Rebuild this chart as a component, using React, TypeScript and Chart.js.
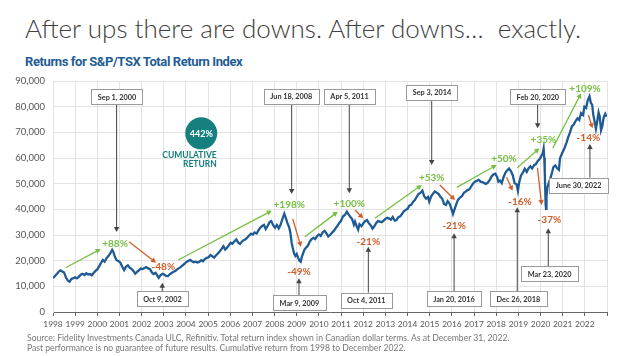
import React, { useEffect, useRef } from "react";
import { Chart, registerables } from "chart.js";

Chart.register(...registerables);

// ---- Data (decimal year, index value) ----
const dates = [
  1998.0, 1998.08, 1998.17, 1998.25, 1998.33, 1998.42, 1998.5, 1998.58, 1998.67, 1998.75, 1998.83, 1998.92,
  1999.0, 1999.08, 1999.17, 1999.25, 1999.33, 1999.42, 1999.5, 1999.58, 1999.67, 1999.75, 1999.83, 1999.92,
  2000.0, 2000.08, 2000.17, 2000.25, 2000.33, 2000.42, 2000.5, 2000.58, 2000.67, 2000.72, 2000.79, 2000.87, 2000.96,
  2001.04, 2001.13, 2001.21, 2001.29, 2001.38, 2001.46, 2001.54, 2001.63, 2001.71, 2001.79, 2001.88, 2001.96,
  2002.04, 2002.13, 2002.21, 2002.29, 2002.38, 2002.46, 2002.54, 2002.63, 2002.71, 2002.77, 2002.85, 2002.94,
  2003.02, 2003.1, 2003.19, 2003.27, 2003.35, 2003.44, 2003.52, 2003.6, 2003.69, 2003.77, 2003.85, 2003.94,
  2004.02, 2004.1, 2004.19, 2004.27, 2004.35, 2004.44, 2004.52, 2004.6, 2004.69, 2004.77, 2004.85, 2004.94,
  2005.02, 2005.1, 2005.19, 2005.27, 2005.35, 2005.44, 2005.52, 2005.6, 2005.69, 2005.77, 2005.85, 2005.94,
  2006.02, 2006.1, 2006.19, 2006.27, 2006.35, 2006.44, 2006.52, 2006.6, 2006.69, 2006.77, 2006.85, 2006.94,
  2007.02, 2007.1, 2007.19, 2007.27, 2007.35, 2007.44, 2007.52, 2007.6, 2007.69, 2007.77, 2007.85, 2007.94,
  2008.02, 2008.1, 2008.19, 2008.27, 2008.35, 2008.44, 2008.5, 2008.58, 2008.65, 2008.71, 2008.77, 2008.83, 2008.88, 2008.94,
  2009.0, 2009.06, 2009.12, 2009.18, 2009.23, 2009.29, 2009.35, 2009.42, 2009.5, 2009.58, 2009.67, 2009.75, 2009.83, 2009.92,
  2010.0, 2010.08, 2010.17, 2010.25, 2010.35, 2010.42, 2010.5, 2010.58, 2010.67, 2010.75, 2010.83, 2010.92,
  2011.0, 2011.08, 2011.17, 2011.26, 2011.33, 2011.42, 2011.5, 2011.58, 2011.63, 2011.71, 2011.77, 2011.83, 2011.92,
  2012.0, 2012.08, 2012.17, 2012.25, 2012.33, 2012.42, 2012.5, 2012.58, 2012.67, 2012.75, 2012.83, 2012.92,
  2013.0, 2013.08, 2013.17, 2013.25, 2013.33, 2013.42, 2013.5, 2013.58, 2013.67, 2013.75, 2013.83, 2013.92,
  2014.0, 2014.08, 2014.17, 2014.25, 2014.33, 2014.42, 2014.5, 2014.58, 2014.67, 2014.75, 2014.83, 2014.92, 2014.98,
  2015.06, 2015.15, 2015.23, 2015.31, 2015.4, 2015.48, 2015.56, 2015.65, 2015.73, 2015.81, 2015.9, 2015.96,
  2016.05, 2016.12, 2016.2, 2016.28, 2016.37, 2016.46, 2016.54, 2016.62, 2016.71, 2016.79, 2016.87, 2016.96,
  2017.04, 2017.12, 2017.21, 2017.29, 2017.38, 2017.46, 2017.54, 2017.62, 2017.71, 2017.79, 2017.87, 2017.96,
  2018.04, 2018.1, 2018.17, 2018.25, 2018.33, 2018.42, 2018.5, 2018.58, 2018.67, 2018.75, 2018.83, 2018.92, 2018.98,
  2019.04, 2019.12, 2019.21, 2019.29, 2019.38, 2019.46, 2019.54, 2019.62, 2019.71, 2019.79, 2019.87, 2019.96,
  2020.04, 2020.1, 2020.14, 2020.17, 2020.19, 2020.21, 2020.23, 2020.25, 2020.27, 2020.31, 2020.37, 2020.44, 2020.5,
  2020.58, 2020.67, 2020.75, 2020.83, 2020.88, 2020.94,
  2021.0, 2021.08, 2021.17, 2021.25, 2021.33, 2021.42, 2021.5, 2021.58, 2021.67, 2021.75, 2021.83, 2021.92, 2021.98,
  2022.06, 2022.12, 2022.21, 2022.27, 2022.33, 2022.38, 2022.44, 2022.5, 2022.56, 2022.62, 2022.67, 2022.73, 2022.79,
  2022.85, 2022.92, 2022.98,
];

const values = [
  13200, 13900, 14800, 15600, 16200, 15800, 15400, 13500, 12200, 11800, 12900, 13200,
  13500, 13100, 13800, 14500, 14900, 14400, 15100, 14600, 14800, 14300, 15200, 16000,
  16600, 17800, 19200, 20300, 19600, 21000, 21800, 22800, 24200, 23500, 21600, 20200, 19800,
  19200, 17500, 16300, 17600, 18200, 17300, 16800, 16000, 14900, 15600, 16200, 16900,
  16700, 17100, 17500, 17000, 16700, 15400, 14800, 15300, 14200, 13300, 14300, 14900,
  14600, 14100, 14000, 14700, 15200, 15700, 16000, 16600, 17100, 17600, 18200, 18800,
  19500, 19900, 20300, 19800, 19400, 19600, 19300, 19500, 20200, 19800, 20600, 21100,
  21300, 22200, 21700, 21200, 22000, 22800, 23600, 24500, 25600, 24300, 25000, 26100,
  27000, 26600, 27600, 28300, 27100, 26500, 27400, 28000, 28300, 29000, 29800, 30500,
  30200, 31000, 30600, 31800, 32800, 33500, 33900, 32300, 33600, 35000, 35400, 33700,
  32800, 33900, 32600, 34000, 36200, 38300, 36800, 34600, 33200, 31000, 27000, 24500, 22800, 21800,
  22600, 21200, 20000, 19600, 21500, 22900, 24300, 25100, 25800, 27300, 28400, 28900, 28400, 29600,
  30200, 29600, 31100, 31600, 30500, 29400, 30000, 30800, 31600, 32600, 33500, 34700,
  35600, 37200, 37800, 39100, 38100, 37000, 36200, 34000, 35200, 33300, 32100, 34200, 33400,
  34500, 35400, 35800, 34600, 33800, 32500, 33400, 34600, 35500, 35200, 35000, 35600,
  36300, 36700, 36400, 36000, 37000, 35600, 35800, 36900, 37300, 38200, 39200, 39800,
  40200, 41400, 41800, 43000, 43600, 45000, 46000, 46400, 47300, 45100, 44200, 44800, 43000,
  45000, 46100, 47000, 46500, 46000, 44900, 44200, 42100, 41700, 43200, 42200, 40700,
  38200, 40000, 42000, 43800, 44600, 45200, 46400, 46900, 47500, 47800, 48900, 50100,
  50800, 51100, 51500, 50800, 50600, 50200, 49900, 50400, 51500, 52800, 53600, 53900,
  52600, 50800, 51200, 50200, 52500, 54300, 55200, 55900, 54800, 53200, 50200, 49800, 47200,
  50600, 53200, 54400, 55800, 54600, 56000, 56800, 55900, 57200, 57600, 58800, 59600,
  60800, 61900, 63700, 60000, 55000, 48500, 42000, 40200, 45000, 48500, 50200, 52000, 53700,
  56400, 57100, 56000, 55400, 59900, 61200,
  62300, 63800, 65900, 68100, 70000, 72400, 73000, 74400, 75500, 74800, 77500, 76800, 80000,
  79500, 82200, 84000, 81400, 80800, 76900, 74200, 71400, 74300, 77800, 76300, 70800, 72500,
  75800, 77200, 76100,
];

const yearTicks = [1998, 1999, 2000, 2001, 2002, 2003, 2004, 2005, 2006, 2007, 2008, 2009, 2010,
  2011, 2012, 2013, 2014, 2015, 2016, 2017, 2018, 2019, 2020, 2021, 2022];

// Date callouts: label, box centre (year, value), arrow x (year), arrow tip value
const calloutLabels = ["Sep 1, 2000", "Oct 9, 2002", "Jun 18, 2008", "Mar 9, 2009", "Apr 5, 2011", "Oct 4, 2011",
  "Sep 3, 2014", "Jan 20, 2016", "Dec 26, 2018", "Feb 20, 2020", "Mar 23, 2020", "June 30, 2022"];
const calloutBoxX = [2000.89, 2002.94, 2008.75, 2009.12, 2011.38, 2012.14, 2015.1, 2016.09, 2019.0, 2019.88, 2020.41, 2021.72];
const calloutBoxY = [84000, 5260, 84150, 3700, 84150, 4675, 85700, 5065, 5065, 84040, 14880, 49480];
const calloutArrowX = [2000.87, 2002.93, 2008.77, 2009.1, 2011.37, 2012.23, 2015.09, 2016.1, 2018.95, 2019.87, 2020.35, 2022.23];
const calloutTipY = [31170, 11415, 45970, 13130, 46250, 25440, 57270, 30660, 40790, 71570, 32610, 65450];

// Percentage moves: label, position
const moveLabels = ["+88%", "-48%", "+198%", "-49%", "+100%", "-21%", "+53%", "-21%", "+50%", "-16%", "+35%", "-37%", "+109%", "-14%"];
const moveX = [2000.8, 2002.98, 2008.66, 2009.1, 2011.37, 2012.23, 2015.09, 2016.1, 2018.35, 2019.07, 2020.13, 2020.4, 2022.01, 2022.16];
const moveY = [26770, 17650, 41690, 15700, 42350, 27390, 52480, 33510, 59880, 42970, 67010, 36120, 87150, 68060];

// Trend arrows (start year/value -> end year/value), alternating up / down
const trendX1 = [1998.57, 2001.43, 2003.65, 2008.82, 2009.37, 2011.63, 2012.53, 2015.46, 2016.22, 2018.47, 2018.95, 2019.86, 2020.55, 2022.16];
const trendY1 = [17260, 27390, 20260, 36230, 29340, 39740, 36510, 49480, 48580, 52480, 56220, 56220, 63780, 76750];
const trendX2 = [2000.15, 2002.65, 2007.87, 2009.19, 2010.85, 2012.0, 2014.64, 2016.14, 2018.02, 2018.74, 2019.95, 2020.05, 2021.83, 2022.35];
const trendY2 = [24540, 19210, 39470, 25440, 39080, 36510, 49480, 43640, 57270, 47260, 63780, 41690, 85210, 71570];

const cumulativeText = "442%";
const cumulativeAt = [2004.69, 69610];
const cumulativeCaptionAt = [2005.39, 61170, 57660];

const GREEN = "#76bf43";
const ORANGE = "#cf5f2a";
const TEAL = "#15807d";
const LINE = "#1e5b95";
const FONT = "Lato, 'Noto Sans', sans-serif";

function arrow(ctx: CanvasRenderingContext2D, x1: number, y1: number, x2: number, y2: number, color: string, width: number, head: number) {
  const ang = Math.atan2(y2 - y1, x2 - x1);
  ctx.save();
  ctx.strokeStyle = color;
  ctx.fillStyle = color;
  ctx.lineWidth = width;
  ctx.beginPath();
  ctx.moveTo(x1, y1);
  ctx.lineTo(x2 - Math.cos(ang) * head * 0.8, y2 - Math.sin(ang) * head * 0.8);
  ctx.stroke();
  ctx.beginPath();
  ctx.moveTo(x2, y2);
  ctx.lineTo(x2 - head * Math.cos(ang) + head * 0.55 * Math.sin(ang), y2 - head * Math.sin(ang) - head * 0.55 * Math.cos(ang));
  ctx.lineTo(x2 - head * Math.cos(ang) - head * 0.55 * Math.sin(ang), y2 - head * Math.sin(ang) + head * 0.55 * Math.cos(ang));
  ctx.closePath();
  ctx.fill();
  ctx.restore();
}

const annotationPlugin = {
  id: "annotations",
  afterDraw(chart: any) {
    const ctx: CanvasRenderingContext2D = chart.ctx;
    const xs = chart.scales.x;
    const ys = chart.scales.y;
    const px = (v: number) => xs.getPixelForValue(v);
    const py = (v: number) => ys.getPixelForValue(v);

    for (let i = 0; i < trendX1.length; i++) {
      const col = i % 2 === 0 ? GREEN : ORANGE;
      arrow(ctx, px(trendX1[i]), py(trendY1[i]), px(trendX2[i]), py(trendY2[i]), col, 1.3, 5);
    }
    ctx.save();
    ctx.font = `bold 10px ${FONT}`;
    ctx.textAlign = "center";
    ctx.textBaseline = "middle";
    for (let i = 0; i < moveLabels.length; i++) {
      ctx.fillStyle = moveLabels[i].startsWith("+") ? GREEN : ORANGE;
      ctx.fillText(moveLabels[i], px(moveX[i]), py(moveY[i]));
    }
    ctx.restore();

    ctx.save();
    ctx.font = `bold 7.3px ${FONT}`;
    for (let i = 0; i < calloutLabels.length; i++) {
      const cx = px(calloutBoxX[i]);
      const cy = py(calloutBoxY[i]);
      const w = ctx.measureText(calloutLabels[i]).width + 13;
      const h = 15;
      const ax = px(calloutArrowX[i]);
      const tip = py(calloutTipY[i]);
      const startY = tip < cy ? cy - h / 2 : cy + h / 2;
      arrow(ctx, ax, startY, ax, tip, "#444", 1, 5);
      ctx.fillStyle = "#ffffff";
      ctx.strokeStyle = "#9a9a9a";
      ctx.lineWidth = 1;
      ctx.fillRect(Math.round(cx - w / 2) + 0.5, Math.round(cy - h / 2) + 0.5, Math.round(w), h);
      ctx.strokeRect(Math.round(cx - w / 2) + 0.5, Math.round(cy - h / 2) + 0.5, Math.round(w), h);
      ctx.fillStyle = "#333";
      ctx.textAlign = "center";
      ctx.textBaseline = "middle";
      ctx.fillText(calloutLabels[i], cx, cy + 1);
    }
    ctx.restore();

    ctx.save();
    const ccx = px(cumulativeAt[0]);
    const ccy = py(cumulativeAt[1]);
    ctx.fillStyle = TEAL;
    ctx.beginPath();
    ctx.arc(ccx, ccy, 16, 0, Math.PI * 2);
    ctx.fill();
    ctx.fillStyle = "#fff";
    ctx.font = `bold 9px ${FONT}`;
    ctx.textAlign = "center";
    ctx.textBaseline = "middle";
    ctx.fillText(cumulativeText, ccx, ccy + 0.5);
    ctx.fillStyle = TEAL;
    ctx.font = `bold 8.5px ${FONT}`;
    ctx.textAlign = "right";
    ctx.fillText("CUMULATIVE", px(cumulativeCaptionAt[0]), py(cumulativeCaptionAt[1]));
    ctx.fillText("RETURN", px(cumulativeCaptionAt[0]), py(cumulativeCaptionAt[2]));
    ctx.restore();
  },
};

export default function App() {
  const ref = useRef<HTMLCanvasElement | null>(null);

  useEffect(() => {
    if (!ref.current) return;
    const points = dates.map((d, i) => ({ x: d, y: values[i] }));
    const chart = new Chart(ref.current, {
      type: "line",
      data: {
        datasets: [
          {
            data: points,
            borderColor: LINE,
            borderWidth: 2.3,
            pointRadius: 0,
            tension: 0,
            fill: false,
          },
        ],
      },
      options: {
        animation: false,
        responsive: false,
        maintainAspectRatio: false,
        layout: { padding: { left: 8, top: 81, right: 17, bottom: 14 } },
        plugins: { legend: { display: false }, tooltip: { enabled: false }, title: { display: false } },
        scales: {
          x: {
            type: "linear",
            min: 1998,
            max: 2023,
            afterBuildTicks: (s: any) => {
              s.ticks = [...yearTicks, 2023].map((v) => ({ value: v }));
            },
            afterFit: (s: any) => {
              s.height = 30;
            },
            ticks: {
              autoSkip: false,
              maxRotation: 0,
              padding: 3,
              color: "#555",
              font: { family: FONT, size: 8.4 },
              callback: (v: any) => (yearTicks.includes(v) ? String(v) : ""),
            },
            grid: { color: "#e3e3e3", tickColor: "#666", tickLength: 4, lineWidth: 1 },
            border: { color: "#666", width: 1 },
          },
          y: {
            min: 0,
            max: 90000,
            afterFit: (s: any) => {
              s.width = 45;
            },
            ticks: {
              stepSize: 10000,
              padding: 8,
              color: "#555",
              font: { family: FONT, size: 9.5 },
              callback: (v: any) => Number(v).toLocaleString("en-US"),
            },
            grid: { color: "#e3e3e3", drawTicks: false },
            border: { color: "#e3e3e3" },
          },
        },
      },
      plugins: [annotationPlugin],
    });
    return () => chart.destroy();
  }, []);

  return (
    <div style={{ position: "fixed", left: 0, top: 0, width: 624, height: 356, background: "#fff", overflow: "hidden" }}>
      <div
        style={{
          position: "absolute",
          left: 25,
          top: 15,
          fontFamily: FONT,
          fontWeight: 300,
          fontSize: 26,
          lineHeight: "26px",
          color: "#404040",
          whiteSpace: "pre",
        }}
      >
        {"After ups there are downs. After downs…  exactly."}
      </div>
      <div
        style={{
          position: "absolute",
          left: 25,
          top: 55,
          fontFamily: "Roboto, sans-serif",
          fontWeight: 700,
          fontSize: 13,
          letterSpacing: "-0.4px",
          lineHeight: "14px",
          color: "#1f5d96",
          whiteSpace: "pre",
        }}
      >
        Returns for S&amp;P/TSX Total Return Index
      </div>
      <canvas ref={ref} width={624} height={356} style={{ position: "absolute", left: 0, top: 0 }} />
      <div
        style={{
          position: "absolute",
          left: 27,
          top: 333,
          fontFamily: FONT,
          fontSize: 8.6,
          lineHeight: "10px",
          color: "#777",
          whiteSpace: "pre",
        }}
      >
        {"Source: Fidelity Investments Canada ULC, Refinitiv. Total return index shown in Canadian dollar terms. As at December 31, 2022.\nPast performance is no guarantee of future results. Cumulative return from 1998 to December 2022."}
      </div>
    </div>
  );
}
